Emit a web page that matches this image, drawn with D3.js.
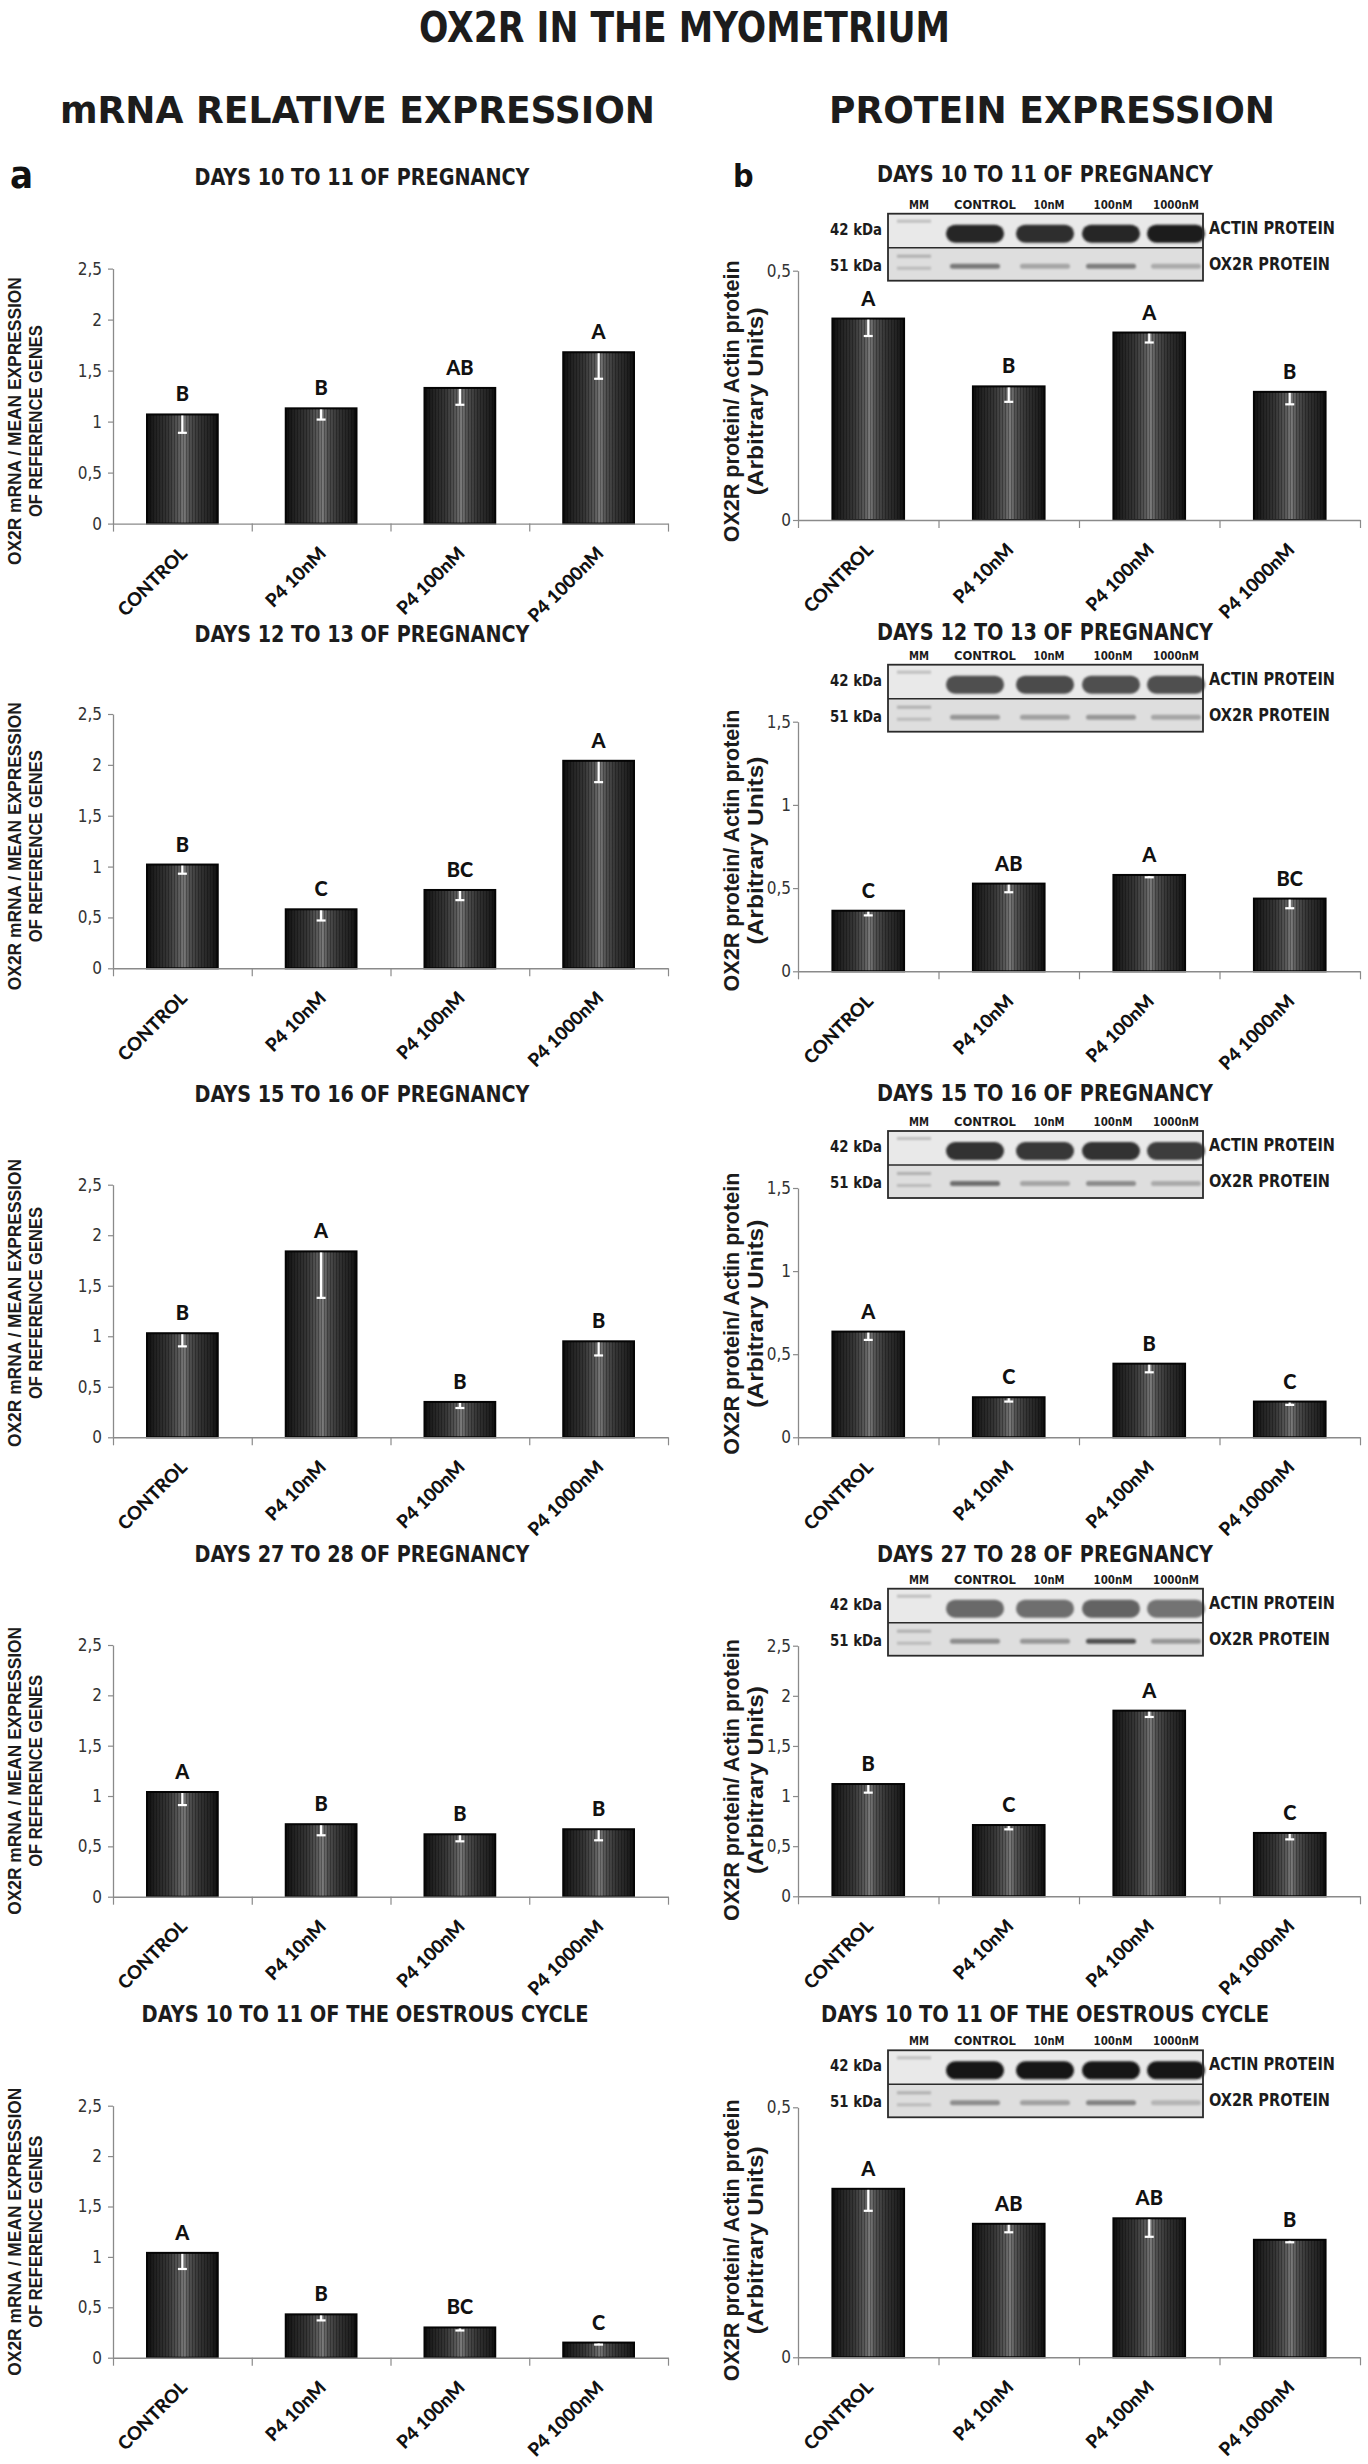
<!DOCTYPE html>
<html>
<head>
<meta charset="utf-8">
<script src="https://cdn.jsdelivr.net/npm/d3@7"></script>
<style>
  html, body { margin: 0; padding: 0; background: #ffffff; }
  svg { display: block; }
</style>
</head>
<body>
<div id="chart"></div>
<script>
// ---------------- DATA ----------------
const categories = ["CONTROL", "P4 10nM", "P4 100nM", "P4 1000nM"];

const mrnaTitles = [
  "DAYS 10 TO 11 OF PREGNANCY",
  "DAYS 12 TO 13 OF PREGNANCY",
  "DAYS 15 TO 16 OF PREGNANCY",
  "DAYS 27 TO 28 OF PREGNANCY",
  "DAYS 10 TO 11 OF THE OESTROUS CYCLE"
];
const proteinTitles = mrnaTitles.slice();

const mrnaMeans = [
  [1.07, 1.13, 1.33, 1.68],
  [1.02, 0.58, 0.77, 2.04],
  [1.03, 1.84, 0.35, 0.95],
  [1.04, 0.72, 0.62, 0.67],
  [1.04, 0.43, 0.30, 0.15]
];
const mrnaSE = [
  [0.18, 0.11, 0.165, 0.26],
  [0.09, 0.11, 0.10, 0.21],
  [0.13, 0.46, 0.06, 0.14],
  [0.13, 0.11, 0.07, 0.11],
  [0.16, 0.06, 0.03, 0.02]
];
const mrnaLetters = [
  ["B", "B", "AB", "A"],
  ["B", "C", "BC", "A"],
  ["B", "A", "B", "B"],
  ["A", "B", "B", "B"],
  ["A", "B", "BC", "C"]
];

const protMeans = [
  [0.404, 0.268, 0.376, 0.257],
  [0.364, 0.527, 0.579, 0.437],
  [0.636, 0.241, 0.443, 0.215],
  [1.12, 0.711, 1.852, 0.632],
  [0.337, 0.267, 0.278, 0.235]
];
const protSE = [
  [0.035, 0.031, 0.020, 0.025],
  [0.028, 0.052, 0.014, 0.058],
  [0.050, 0.026, 0.052, 0.020],
  [0.086, 0.043, 0.063, 0.064],
  [0.044, 0.017, 0.037, 0.005]
];
const protLetters = [
  ["A", "B", "A", "B"],
  ["C", "AB", "A", "BC"],
  ["A", "C", "B", "C"],
  ["B", "C", "A", "C"],
  ["A", "AB", "AB", "B"]
];

const mrnaMax = 2.5;
const mrnaTicks = [0, 0.5, 1, 1.5, 2, 2.5];
const protMax = [0.5, 1.5, 1.5, 2.5, 0.5];
const protTicks = [
  [0, 0.5],
  [0, 0.5, 1, 1.5],
  [0, 0.5, 1, 1.5],
  [0, 0.5, 1, 1.5, 2, 2.5],
  [0, 0.5]
];

const laneLabels = ["MM", "CONTROL", "10nM", "100nM", "1000nM"];
// Western blot band grey levels (0 = black, 255 = white), lanes CONTROL..1000nM
const actinGrey = [
  [40, 45, 40, 30],
  [80, 75, 80, 80],
  [50, 55, 50, 60],
  [105, 110, 100, 115],
  [25, 25, 25, 25]
];
const ox2rGrey = [
  [120, 165, 125, 170],
  [150, 160, 150, 165],
  [110, 165, 140, 170],
  [140, 150, 80, 150],
  [140, 160, 130, 180]
];

// ---------------- LAYOUT ----------------
const W = 1368, H = 2464;
const narrow = "'Liberation Sans Narrow','Arial Narrow','DejaVu Sans Condensed',sans-serif";
const arial = "'Liberation Sans',Arial,sans-serif";
const calib = "Lato,'Open Sans',sans-serif";

const leftLayout = {
  x0: 113, x1: 668,
  tops: [268.6, 714, 1184.7, 1645, 2105.7],
  bottoms: [523.6, 968.3, 1437.3, 1896.7, 2357.7],
  titleY: [185, 642, 1102, 1562, 2022],
  titleX: 362,
  labelX: [15, 36],
  labelShift: [25, 5, -8, 0, 0]
};
const rightLayout = {
  x0: 798, x1: 1360,
  tops: [270.7, 721.7, 1188, 1645.7, 2107.3],
  bottoms: [520, 971.3, 1437.3, 1896.3, 2357.3],
  titleY: [182, 640, 1101, 1562, 2022],
  titleX: 1045,
  labelX: [731, 755],
  labelShift: [6, 4, 1, 9, 8]
};

const fmt = v => (v === 0 ? "0" : d3.format("~g")(v)).replace(".", ",");

const svg = d3.select("#chart").append("svg")
  .attr("width", W).attr("height", H)
  .attr("viewBox", `0 0 ${W} ${H}`);

// defs
const defs = svg.append("defs");
const grad = defs.append("linearGradient").attr("id", "barGrad")
  .attr("x1", "0").attr("x2", "1").attr("y1", "0").attr("y2", "0");
[[0, "#0e0e0e"], [0.12, "#222"], [0.3, "#363636"], [0.45, "#5a5a5a"], [0.52, "#7a7a7a"],
 [0.6, "#505050"], [0.75, "#333"], [0.9, "#222"], [1, "#0e0e0e"]]
  .forEach(([o, c]) => grad.append("stop").attr("offset", o).attr("stop-color", c));
const pat = defs.append("pattern").attr("id", "stripes")
  .attr("patternUnits", "userSpaceOnUse").attr("width", 3).attr("height", 10);
pat.append("rect").attr("x", 0).attr("y", 0).attr("width", 1).attr("height", 10)
  .attr("fill", "rgba(0,0,0,0.28)");
const blur = defs.append("filter").attr("id", "blur")
  .attr("x", "-20%").attr("y", "-50%").attr("width", "140%").attr("height", "200%");
blur.append("feGaussianBlur").attr("stdDeviation", 1.3);
const blur2 = defs.append("filter").attr("id", "blur2")
  .attr("x", "-20%").attr("y", "-100%").attr("width", "140%").attr("height", "300%");
blur2.append("feGaussianBlur").attr("stdDeviation", 0.9);

// ---------------- HEADINGS ----------------
function fitText(sel, width) {
  return sel.attr("textLength", width).attr("lengthAdjust", "spacingAndGlyphs");
}
fitText(svg.append("text").attr("x", 419).attr("y", 42)
  .attr("font-family", narrow).attr("font-weight", "bold").attr("font-size", 43)
  .attr("fill", "#1c1c1c").text("OX2R IN THE MYOMETRIUM"), 531);
fitText(svg.append("text").attr("x", 60).attr("y", 123)
  .attr("font-family", narrow).attr("font-weight", "bold").attr("font-size", 38)
  .attr("fill", "#1c1c1c").text("mRNA RELATIVE EXPRESSION"), 595);
fitText(svg.append("text").attr("x", 829).attr("y", 123)
  .attr("font-family", narrow).attr("font-weight", "bold").attr("font-size", 38)
  .attr("fill", "#1c1c1c").text("PROTEIN EXPRESSION"), 446);
svg.append("text").attr("x", 10).attr("y", 188)
  .attr("font-family", narrow).attr("font-weight", "bold").attr("font-size", 38)
  .attr("fill", "#111").text("a");
svg.append("text").attr("x", 733).attr("y", 187)
  .attr("font-family", narrow).attr("font-weight", "bold").attr("font-size", 32)
  .attr("fill", "#111").text("b");

// ---------------- PANEL ----------------
function drawPanel(opt) {
  const g = svg.append("g");
  const y = d3.scaleLinear().domain([0, opt.max]).range([opt.bottom, opt.top]);
  const xb = d3.scaleBand().domain(categories).range([opt.x0, opt.x1])
    .paddingInner(0.49).paddingOuter(0.245);
  const xi = d3.scaleLinear().domain([0, categories.length]).range([opt.x0, opt.x1]);

  // title
  fitText(g.append("text").attr("x", opt.titleX).attr("y", opt.titleY)
    .attr("text-anchor", "middle")
    .attr("font-family", narrow).attr("font-weight", "bold").attr("font-size", 23)
    .attr("fill", "#1c1c1c").text(opt.title), opt.titleW);

  // y axis
  const ya = g.append("g").attr("transform", `translate(${opt.x0},0)`)
    .call(d3.axisLeft(y).tickValues(opt.ticks).tickFormat(fmt).tickSize(5).tickSizeOuter(0).tickPadding(opt.tickPad));
  ya.select(".domain").attr("stroke", "#8a8a8a").attr("stroke-width", 1.3);
  ya.selectAll(".tick line").attr("stroke", "#8a8a8a").attr("stroke-width", 1.2);
  ya.selectAll(".tick text").attr("font-family", narrow).attr("font-size", 17)
    .attr("fill", "#333");

  // bars
  const data = categories.map((c, i) => ({ c, v: opt.means[i], se: opt.se[i], l: opt.letters[i] }));
  g.selectAll("rect.bar").data(data).join("rect").attr("class", "bar")
    .attr("x", d => xb(d.c)).attr("width", xb.bandwidth())
    .attr("y", d => y(d.v)).attr("height", d => y(0) - y(d.v))
    .attr("fill", "url(#barGrad)");
  g.selectAll("rect.str").data(data).join("rect").attr("class", "str")
    .attr("x", d => xb(d.c)).attr("width", xb.bandwidth())
    .attr("y", d => y(d.v)).attr("height", d => y(0) - y(d.v))
    .attr("fill", "url(#stripes)")
    .attr("stroke", "#050505").attr("stroke-width", 2);

  // error bars (white, downward)
  const cx = d => xb(d.c) + xb.bandwidth() / 2;
  g.selectAll("line.err").data(data).join("line").attr("class", "err")
    .attr("x1", cx).attr("x2", cx)
    .attr("y1", d => y(d.v) + 1).attr("y2", d => y(d.v - d.se))
    .attr("stroke", "#fff").attr("stroke-width", 2.2);
  g.selectAll("line.cap").data(data).join("line").attr("class", "cap")
    .attr("x1", d => cx(d) - 4.5).attr("x2", d => cx(d) + 4.5)
    .attr("y1", d => y(d.v - d.se)).attr("y2", d => y(d.v - d.se))
    .attr("stroke", "#fff").attr("stroke-width", 2.2);

  // letters
  g.selectAll("text.let").data(data).join("text").attr("class", "let")
    .attr("x", cx).attr("y", d => y(d.v) - 13)
    .attr("text-anchor", "middle")
    .attr("font-family", calib).attr("font-weight", 900).attr("font-size", 20)
    .attr("fill", "#111").text(d => d.l);

  // x axis (boundary ticks)
  const xa = g.append("g").attr("transform", `translate(0,${opt.bottom})`)
    .call(d3.axisBottom(xi).tickValues(d3.range(categories.length + 1))
      .tickFormat("").tickSize(8).tickSizeOuter(0));
  xa.select(".domain").attr("stroke", "#8a8a8a").attr("stroke-width", 1.4);
  xa.selectAll(".tick line").attr("stroke", "#8a8a8a").attr("stroke-width", 1.2);

  // x labels rotated
  g.selectAll("text.xl").data(data).join("text").attr("class", "xl")
    .attr("transform", d => `translate(${cx(d) + 6},${opt.bottom + 31}) rotate(-45)`)
    .attr("text-anchor", "end")
    .attr("font-family", calib).attr("font-weight", 900).attr("font-size", 18.5)
    .attr("fill", "#111").text(d => d.c);

  // y label
  const ymid = (opt.top + opt.bottom) / 2 + opt.labelShift;
  opt.ylabel.forEach((t, k) => {
    fitText(g.append("text")
      .attr("transform", `translate(${opt.labelX[k]},${ymid}) rotate(-90)`)
      .attr("text-anchor", "middle").attr("dominant-baseline", "central")
      .attr("font-family", arial).attr("font-weight", "bold").attr("font-size", opt.labelSize)
      .attr("fill", "#1c1c1c").text(t), opt.labelW[k]);
  });
  return g;
}

function drawBlot(top, p) {
  const g = svg.append("g");
  const bx0 = 888, bx1 = 1203, by0 = top - 57, by1 = top + 10, div = top - 23;
  g.append("rect").attr("x", bx0).attr("y", by0).attr("width", bx1 - bx0).attr("height", div - by0)
    .attr("fill", "#e9e9e9");
  g.append("rect").attr("x", bx0).attr("y", div).attr("width", bx1 - bx0).attr("height", by1 - div)
    .attr("fill", "#dedede");
  const laneX = [914, 975, 1045, 1111, 1176];
  // MM lane faint bands
  [[by0 + 6, 190], [div + 7, 175], [div + 19, 185]].forEach(([yy, gr]) => {
    g.append("rect").attr("x", laneX[0] - 17).attr("y", yy).attr("width", 34).attr("height", 3)
      .attr("fill", d3.rgb(gr, gr, gr)).attr("filter", "url(#blur2)");
  });
  for (let i = 0; i < 4; i++) {
    const a = actinGrey[p][i], o = ox2rGrey[p][i];
    g.append("rect").attr("x", laneX[i + 1] - 29).attr("y", top - 46).attr("width", 58).attr("height", 18)
      .attr("rx", 9).attr("fill", d3.rgb(a, a, a)).attr("filter", "url(#blur)");
    g.append("rect").attr("x", laneX[i + 1] - 25).attr("y", top - 7).attr("width", 50).attr("height", 5)
      .attr("rx", 2.5).attr("fill", d3.rgb(o, o, o)).attr("filter", "url(#blur2)");
  }
  g.append("rect").attr("x", bx0).attr("y", by0).attr("width", bx1 - bx0).attr("height", by1 - by0)
    .attr("fill", "none").attr("stroke", "#2a2a2a").attr("stroke-width", 1.8);
  g.append("line").attr("x1", bx0).attr("x2", bx1).attr("y1", div).attr("y2", div)
    .attr("stroke", "#2a2a2a").attr("stroke-width", 1.6);
  const labX = [919, 985, 1049, 1113, 1176];
  const labW = [20, 62, 31, 39, 46];
  laneLabels.forEach((t, i) => {
    fitText(g.append("text").attr("x", labX[i]).attr("y", top - 62).attr("text-anchor", "middle")
      .attr("font-family", narrow).attr("font-weight", "bold").attr("font-size", 13)
      .attr("fill", "#1c1c1c").text(t), labW[i]);
  });
  [["42 kDa", top - 36], ["51 kDa", top]].forEach(([t, yy]) => {
    fitText(g.append("text").attr("x", 882).attr("y", yy).attr("text-anchor", "end")
      .attr("font-family", narrow).attr("font-weight", "bold").attr("font-size", 15)
      .attr("fill", "#1c1c1c").text(t), 52);
  });
  [["ACTIN PROTEIN", top - 37, 126], ["OX2R PROTEIN", top - 1, 121]].forEach(([t, yy, w]) => {
    fitText(g.append("text").attr("x", 1209).attr("y", yy)
      .attr("font-family", narrow).attr("font-weight", "bold").attr("font-size", 17)
      .attr("fill", "#1c1c1c").text(t), w);
  });
}

for (let p = 0; p < 5; p++) {
  const oest = p === 4;
  drawPanel({
    x0: leftLayout.x0, x1: leftLayout.x1,
    top: leftLayout.tops[p], bottom: leftLayout.bottoms[p],
    max: mrnaMax, ticks: mrnaTicks, tickPad: 6,
    means: mrnaMeans[p], se: mrnaSE[p], letters: mrnaLetters[p],
    title: mrnaTitles[p], titleX: oest ? 365 : leftLayout.titleX, titleY: leftLayout.titleY[p],
    titleW: oest ? 447 : 335,
    ylabel: ["OX2R mRNA / MEAN EXPRESSION", "OF REFERENCE GENES"],
    labelX: leftLayout.labelX, labelShift: leftLayout.labelShift[p],
    labelSize: 18, labelW: [288, 192]
  });
  drawPanel({
    x0: rightLayout.x0, x1: rightLayout.x1,
    top: rightLayout.tops[p], bottom: rightLayout.bottoms[p],
    max: protMax[p], ticks: protTicks[p], tickPad: 2,
    means: protMeans[p], se: protSE[p], letters: protLetters[p],
    title: proteinTitles[p], titleX: rightLayout.titleX, titleY: rightLayout.titleY[p],
    titleW: oest ? 448 : 336,
    ylabel: ["OX2R protein/ Actin protein", "(Arbitrary Units)"],
    labelX: rightLayout.labelX, labelShift: rightLayout.labelShift[p],
    labelSize: 22, labelW: [282, 188]
  });
  drawBlot(rightLayout.tops[p], p);
}
</script>
</body>
</html>
